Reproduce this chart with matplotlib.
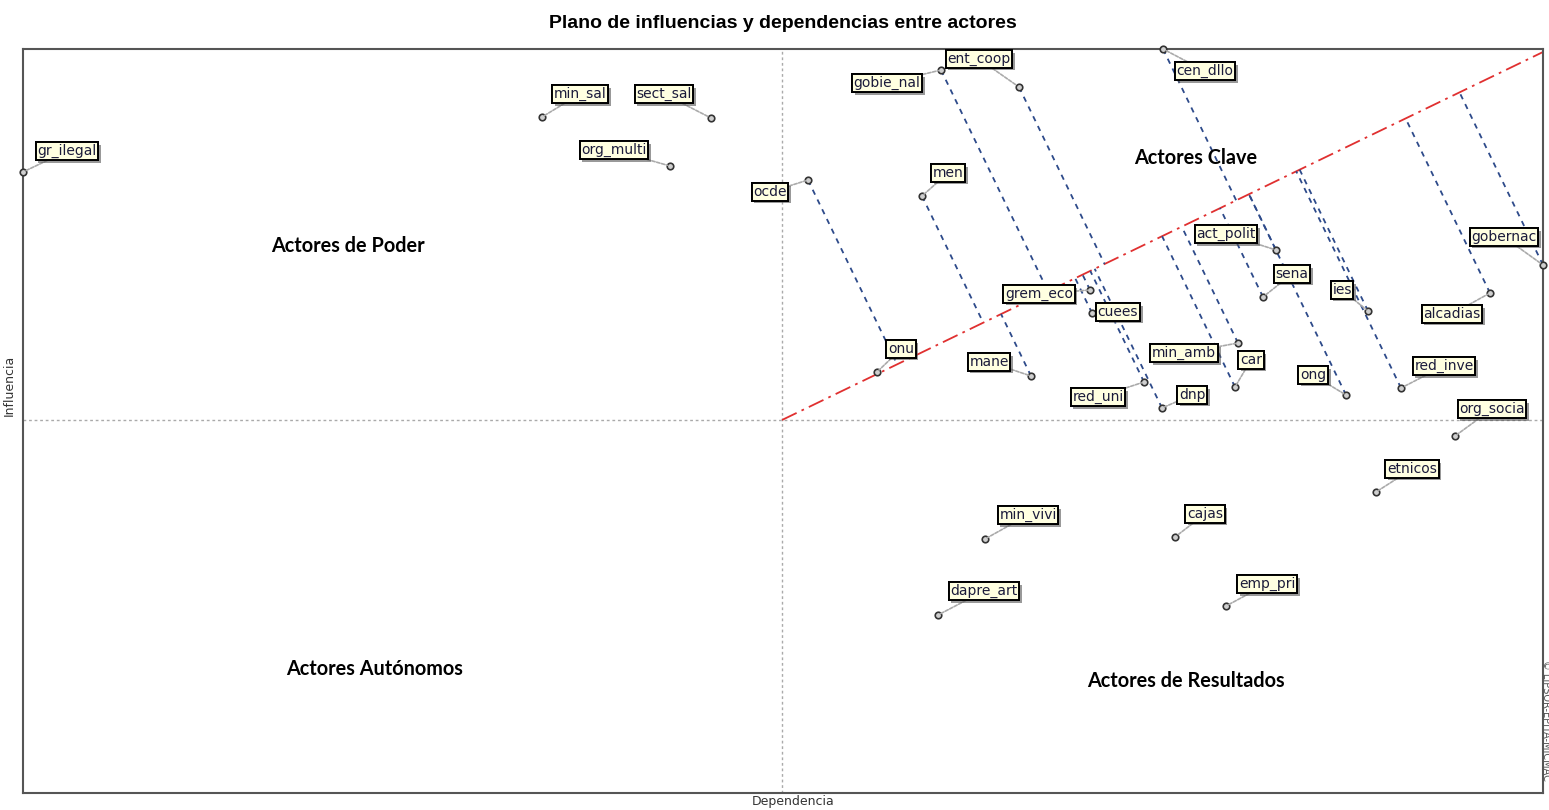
import numpy as np
import matplotlib
matplotlib.use("Agg")
import matplotlib.pyplot as plt
import matplotlib.patheffects as pe

# actors and their position in the influence / dependence plane
actors = ["gr_ilegal", "min_sal", "sect_sal", "org_multi", "ocde", "gobie_nal",
          "ent_coop", "cen_dllo", "men", "act_polit", "gobernac", "sena", "ies",
          "alcadias", "grem_eco", "cuees", "onu", "mane", "min_amb", "car", "ong",
          "red_inve", "red_uni", "dnp", "org_socia", "etnicos", "min_vivi",
          "cajas", "dapre_art", "emp_pri"]
dependencia = [0, 519, 688, 647, 785, 918, 996, 1140, 899, 1253, 1520, 1240, 1345,
               1467, 1067, 1069, 854, 1008, 1215, 1212, 1323, 1378, 1121, 1139,
               1432, 1353, 962, 1152, 915, 1203]
influencia = [621, 676, 675, 627, 613, 723, 706, 744, 597, 543, 528, 496, 482,
              500, 503, 480, 421, 417, 450, 406, 398, 405, 411, 385, 357, 301,
              254, 256, 178, 187]

# label offsets (pixels) from each point
label_dx = [44, 38, -47, -56, -38, -54, -40, 42, 26, -50, -39, 29, -26, -38, -51,
            26, 24, -42, -54, 16, -33, 43, -46, 30, 37, 36, 43, 30, 46, 41]
label_dy = [21, 23, 24, 16, -12, -13, 28, -22, 23, 16, 28, 23, 21, -21, -4, 1, 23,
            14, -10, 27, 20, 22, -15, 13, 27, 23, 24, 23, 24, 22]

x_max, y_max = 1520, 744
x_mid, y_mid = 759, 373
diag_end = (1520, 741)

fig = plt.figure(figsize=(15.49, 8.10), dpi=100)
ax = fig.add_axes([23 / 1549, 17 / 810, 1520 / 1549, 744 / 810])
ax.set_xlim(0, x_max)
ax.set_ylim(0, y_max)
ax.set_xticks([])
ax.set_yticks([])
for s in ax.spines.values():
    s.set_color("#555555")
    s.set_linewidth(1.5)

# quadrant cross
ax.axvline(x_mid, color="#aaaaaa", lw=1, ls=(0, (2, 2)), zorder=1)
ax.axhline(y_mid, color="#aaaaaa", lw=1, ls=(0, (2, 2)), zorder=1)

# diagonal
ax.plot([x_mid, diag_end[0]], [y_mid, diag_end[1]], color="#e03030", lw=1.3,
        ls=(0, (9, 3, 1.5, 3)), zorder=2)

# projections on the diagonal for the upper-right quadrant
o = np.array([x_mid, y_mid], dtype=float)
u = np.array(diag_end, dtype=float) - o
u = u / np.linalg.norm(u)
for xv, yv in zip(dependencia, influencia):
    if xv > x_mid and yv > y_mid:
        p = np.array([xv, yv], dtype=float)
        foot = o + np.dot(p - o, u) * u
        ax.plot([xv, foot[0]], [yv, foot[1]], color="#2d4a8a", lw=1.3,
                ls=(0, (3, 3)), zorder=2)

ax.scatter(dependencia, influencia, s=22, facecolor="#cfcfcf",
           edgecolor="#333333", linewidth=1.2, zorder=4, clip_on=False)

for name, xv, yv, dx, dy in zip(actors, dependencia, influencia, label_dx, label_dy):
    t = ax.annotate(name, (xv, yv), xytext=(dx, dy), textcoords="offset pixels",
                    ha="center", va="center", fontsize=10, family="DejaVu Sans",
                    color="#1a1a3a", zorder=6, annotation_clip=False,
                    bbox=dict(boxstyle="square,pad=0.12", fc="#ffffe1", ec="black", lw=1.4),
                    arrowprops=dict(arrowstyle="-", color="#aaaaaa", lw=1.2,
                                    ls=(0, (2, 1)), shrinkA=0, shrinkB=2))
    t.get_bbox_patch().set_path_effects([
        pe.withSimplePatchShadow(offset=(2, -2), shadow_rgbFace="#555555", alpha=0.6),
        pe.Normal()])

# quadrant names
qfont = dict(fontsize=14.3, fontweight="bold", family="Lato", ha="center",
             va="center", color="black", zorder=3)
ax.text(325, 547, "Actores de Poder", **qfont)
ax.text(1173, 635, "Actores Clave", **qfont)
ax.text(352, 124, "Actores Autónomos", **qfont)
ax.text(1163, 112, "Actores de Resultados", **qfont)

fig.text(783 / 1549, 1 - 24 / 810, "Plano de influencias y dependencias entre actores",
         ha="center", va="center", fontsize=14, fontweight="bold", family="Liberation Sans")
fig.text(793 / 1549, 1 - 802 / 810, "Dependencia", ha="center", va="center",
         fontsize=9, family="DejaVu Sans", color="#333333")
fig.text(9 / 1549, 1 - 385 / 810, "Influencia", ha="center", va="center",
         fontsize=9, family="DejaVu Sans", rotation=90, color="#333333")
fig.text(1546 / 1549, 1 - 720 / 810, "© LIPSOR-EPITA-MICMAC", ha="center",
         va="center", fontsize=7, family="DejaVu Sans", rotation=-90, color="#555555")

fig.savefig("out.png", dpi=100, facecolor="white")
